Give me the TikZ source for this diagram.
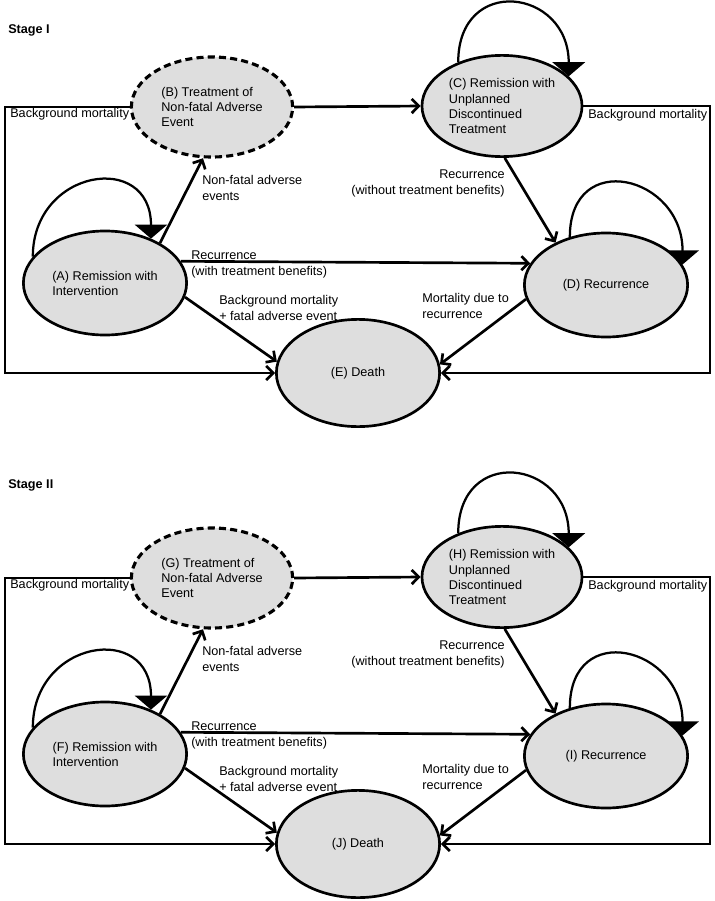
\documentclass[tikz,border=0pt]{standalone}
\usepackage{fontspec}
\setmainfont{Liberation Sans}
\usetikzlibrary{shapes.geometric,arrows.meta}

\definecolor{stategray}{RGB}{222,222,222}

\tikzset{
  state/.style={ellipse, draw, line width=1.9pt, fill=stategray, minimum width=4.08cm, minimum height=2.6cm, inner sep=0pt, align=left},
  treat/.style={state, dash pattern=on 5pt off 3pt, line width=2.2pt, minimum width=4.03cm, minimum height=2.5cm},
  flow/.style={line width=1.9pt, -{Straight Barb[length=5pt,width=10pt]}},
  selfloop/.style={line width=1.6pt, -{Triangle[length=10pt,width=23pt]}},
  lab/.style={anchor=base west, inner sep=0pt, align=left}
}

\begin{document}
\begin{tikzpicture}[x=0.025cm, y=-0.025cm, every node/.style={font=\fontsize{9}{10.7}\selectfont}]
\useasboundingbox (0,0) rectangle (715,901);

\node [lab, font=\fontsize{9}{10.7}\selectfont\bfseries] (titleI) at (8,33) {Stage I};
\node [lab, font=\fontsize{9}{10.7}\selectfont\bfseries] (titleII) at (8,488) {Stage II};

%%%%%%%%%%%%%%%%%%%%%%%%%%%%%%%%%%%%%%%%%%%%%%%%%%%%%%%%%%%%%%%%
% Stage I
%%%%%%%%%%%%%%%%%%%%%%%%%%%%%%%%%%%%%%%%%%%%%%%%%%%%%%%%%%%%%%%%
\begin{scope}

% States
\node [state] (A) at (105,283) {(A) Remission with\\Intervention};
\node [treat] (B) at (212,107) {(B) Treatment of\\Non-fatal Adverse\\Event};
\node [state, minimum width=4cm, minimum height=2.53cm] (C) at (502,106) {(C) Remission with\\Unplanned\\Discontinued\\Treatment};
\node [state] (D) at (606,285) {(D) Recurrence};
\node [state, minimum height=2.68cm] (E) at (358,373) {(E) Death};

\coordinate (leftI) at (5,0);
\coordinate (rightI) at (710,0);

% Transitions
\draw [flow] (B.east) -- (C.west);
\draw [flow] (A.36) -- (B.260);
\draw [flow] (A.16) -- (D.164);
\draw [flow] (A.-10) -- (E.172);
\draw [flow] (C.273) -- (D.140);
\draw [flow] (D.190) -- (E.6);

% Background mortality
\draw [flow] (B.west) -- (B.west -| leftI) |- (E.west);
\draw [flow] (C.east) -- (C.east -| rightI) |- (E.east);

% Staying
\draw [selfloop] (A.160) .. controls +(0,-88) and +(0,-88) .. (A.44);
\draw [selfloop] (C.135) .. controls +(0,-88) and +(0,-88) .. (C.24);
\draw [selfloop] (D.127) .. controls +(0,-89) and +(0,-89) .. (D.15);

% Labels (base = last line)
\node [lab] (bgl) at (10,117) {Background mortality};
\node [lab] (bgr) at (588,118) {Background mortality};
\node [lab] (nfae) at (202,200) {Non-fatal adverse\\events};
\node [lab] (recw) at (191,275) {Recurrence\\(with treatment benefits)};
\node [lab] (bgfa) at (219,320) {Background mortality\\+ fatal adverse event};
\node [lab] (mrec) at (422,318) {Mortality due to\\recurrence};
\node [lab, anchor=base east, align=right] (reco) at (505,194) {Recurrence\\(without treatment benefits)};
\end{scope}

%%%%%%%%%%%%%%%%%%%%%%%%%%%%%%%%%%%%%%%%%%%%%%%%%%%%%%%%%%%%%%%%
% Stage II
%%%%%%%%%%%%%%%%%%%%%%%%%%%%%%%%%%%%%%%%%%%%%%%%%%%%%%%%%%%%%%%%
\begin{scope}[shift={(0,471)}]

% States
\node [state] (F) at (105,283) {(F) Remission with\\Intervention};
\node [treat] (G) at (212,107) {(G) Treatment of\\Non-fatal Adverse\\Event};
\node [state, minimum width=4cm, minimum height=2.53cm] (H) at (502,106) {(H) Remission with\\Unplanned\\Discontinued\\Treatment};
\node [state] (I) at (606,285) {(I) Recurrence};
\node [state, minimum height=2.68cm] (J) at (358,373) {(J) Death};

\coordinate (leftII) at (5,0);
\coordinate (rightII) at (710,0);

% Transitions
\draw [flow] (G.east) -- (H.west);
\draw [flow] (F.36) -- (G.260);
\draw [flow] (F.16) -- (I.164);
\draw [flow] (F.-10) -- (J.172);
\draw [flow] (H.273) -- (I.140);
\draw [flow] (I.190) -- (J.6);

% Background mortality
\draw [flow] (G.west) -- (G.west -| leftII) |- (J.west);
\draw [flow] (H.east) -- (H.east -| rightII) |- (J.east);

% Staying
\draw [selfloop] (F.160) .. controls +(0,-88) and +(0,-88) .. (F.44);
\draw [selfloop] (H.135) .. controls +(0,-88) and +(0,-88) .. (H.24);
\draw [selfloop] (I.127) .. controls +(0,-89) and +(0,-89) .. (I.15);

% Labels (base = last line)
\node [lab] (bgl2) at (10,117) {Background mortality};
\node [lab] (bgr2) at (588,118) {Background mortality};
\node [lab] (nfae2) at (202,200) {Non-fatal adverse\\events};
\node [lab] (recw2) at (191,275) {Recurrence\\(with treatment benefits)};
\node [lab] (bgfa2) at (219,320) {Background mortality\\+ fatal adverse event};
\node [lab] (mrec2) at (422,318) {Mortality due to\\recurrence};
\node [lab, anchor=base east, align=right] (reco2) at (505,194) {Recurrence\\(without treatment benefits)};
\end{scope}

\end{tikzpicture}
\end{document}
